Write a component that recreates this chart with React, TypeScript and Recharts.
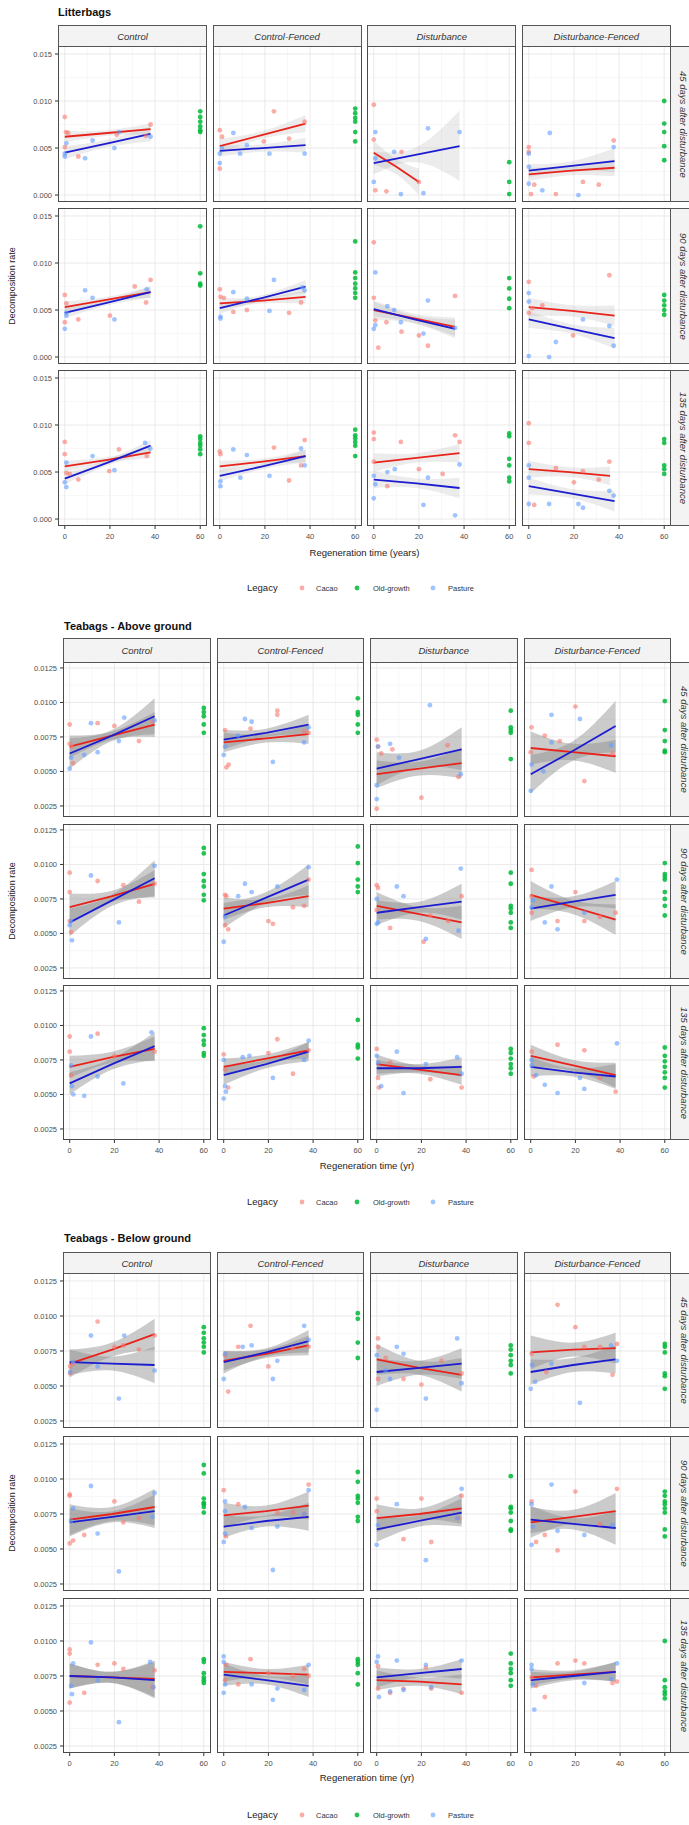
import React from "react";
import { Area, CartesianGrid, ComposedChart, Line, Scatter, XAxis, YAxis } from "recharts";

type Pt = [number, number];
type FitRow = [number, number, number, number]; // x, fitted y, lower, upper

const treatments = ["Control", "Control-Fenced", "Disturbance", "Disturbance-Fenced"];
const times = ["45 days after disturbance", "90 days after disturbance", "135 days after disturbance"];
const legacies = ["Cacao", "Old-growth", "Pasture"];
const xTicks = [0, 20, 40, 60];
const xMinor = [10, 30, 50];
const oldGrowthAge = 60;
const litterYTicks = [0, 0.005, 0.01, 0.015];
const litterYMinor = [0.0025, 0.0075, 0.0125];
const teaYTicks = [0.0025, 0.005, 0.0075, 0.01, 0.0125];
const teaYMinor = [0.00375, 0.00625, 0.00875, 0.01125];

// ---------- Litterbags ----------
const litterCacao: Pt[][][] = [
  [
    [[0, .0083], [0.5, .0067], [1.5, .0066], [0, .0051], [6, .0041], [23, .0064], [38, .0075], [36, .0063]],
    [[0, .0069], [1, .0062], [0, .0028], [24, .0089], [30.7, .006], [37.6, .0078], [19.5, .0057]],
    [[0, .0096], [0, .0059], [0.7, .0005], [5.6, .0004], [12.3, .0046], [20, .0014]],
    [[0, .0051], [0, .0046], [1, .0001], [12, .0001], [24, .0014], [31, .0011], [37.6, .0058], [2.4, .0011]],
  ],
  [
    [[0, .0066], [0.7, .0057], [0, .0037], [6, .004], [20, .0044], [31, .0075], [36, .0058], [38, .0082]],
    [[0, .0072], [0.3, .0064], [1.8, .0063], [6, .0048], [12, .005], [30.7, .0047], [36, .0058]],
    [[0, .0122], [0, .0063], [0.7, .0039], [5.6, .0037], [12.3, .0027], [24, .0012], [36, .0065], [2, .001], [20, .0023]],
    [[0, .008], [0, .0047], [6, .0055], [19.6, .0023], [35.7, .0087], [1.5, .0052]],
  ],
  [
    [[0, .0082], [0, .0069], [0.7, .0049], [2.2, .0048], [6, .0042], [19.7, .0051], [24, .0074], [36.3, .0067]],
    [[0, .0072], [0.3, .0069], [24, .0076], [30.7, .0041], [37.6, .0084], [36, .0057]],
    [[0, .0092], [0, .0085], [12, .0082], [0, .0061], [20, .0053], [30.5, .0048], [36, .0089], [38, .0082], [6, .0035]],
    [[0, .0102], [0, .0081], [12, .0054], [24, .0051], [20, .0039], [31, .0042], [35.7, .0061], [2.4, .0015]],
  ],
];

const litterPasture: Pt[][][] = [
  [
    [[0, .0041], [0, .0044], [0.7, .0055], [9, .0039], [12.3, .0058], [22, .005], [24, .0067], [38, .0062]],
    [[6, .0066], [9, .0044], [12, .0053], [22, .0044], [37.6, .0044], [0, .0044], [0, .0034], [1, .005]],
    [[0.7, .0067], [0.7, .0039], [0, .0014], [9, .0046], [12, .0001], [24, .0071], [22, .0002], [38, .0067]],
    [[0, .0044], [0, .003], [0, .0012], [6, .0005], [9.3, .0066], [22, .0000], [37.6, .0051]],
  ],
  [
    [[0, .003], [0.7, .0044], [9, .0071], [12.3, .0063], [22, .004], [36.3, .0072], [0.7, .0047]],
    [[0.3, .0043], [0.3, .0041], [6, .0069], [12, .0062], [22, .0049], [24, .0082], [36.6, .0074], [37.6, .0071]],
    [[0.7, .009], [0, .003], [0.7, .0034], [6, .0054], [9, .005], [12, .0037], [22, .0025], [24, .006], [36, .0031]],
    [[0, .0068], [0, .0059], [0, .0001], [9, .0000], [12, .0016], [24, .004], [35.7, .0033], [37.6, .0012]],
  ],
  [
    [[0, .0039], [0.7, .0034], [0.7, .006], [12.3, .0067], [22, .0052], [35.6, .0081], [37.9, .0075]],
    [[0.3, .004], [0.3, .0035], [6, .0074], [9.1, .0044], [12, .0068], [22, .0046], [36, .0075], [37.6, .0057]],
    [[0, .0046], [0, .0022], [0.7, .0037], [6, .005], [9.3, .0053], [22, .0015], [24, .0044], [36, .0004], [38, .0058]],
    [[0, .0057], [0, .0044], [0, .0016], [9, .0016], [22, .0016], [24, .0012], [35.7, .003], [37.6, .0025]],
  ],
];

const litterOld: number[][][] = [
  [[.0089, .0083, .0078, .0073, .0069, .0067], [.0092, .0087, .0082, .0078, .0067, .0057], [.0035, .0014, .0001], [.01, .0076, .0067, .0052, .0037]],
  [[.0139, .0089, .0078, .0076], [.0123, .009, .0084, .0078, .0073, .0068, .0063], [.0084, .0073, .0062, .0052], [.0066, .006, .0055, .005, .0045]],
  [[.0088, .0085, .0081, .0078, .0074, .0069], [.0095, .0089, .0086, .0082, .0078, .0067], [.0091, .0088, .0064, .0057, .0044, .004], [.0085, .0081, .0057, .0053, .0048]],
];

const litterCacaoFit: FitRow[][][] = [
  [
    [[0, .0062, .0056, .0068], [19, .0066, .0063, .0069], [38, .007, .0064, .0076]],
    [[0, .0052, .0044, .006], [19, .0064, .006, .0068], [38, .0076, .0067, .0085]],
    [[0, .0045, .0032, .0058], [10, .003, .0022, .0038], [20, .0014, .0000, .0028]],
    [[0, .0022, .0015, .0029], [19, .0026, .0021, .0031], [38, .0029, .002, .0038]],
  ],
  [
    [[0, .0053, .0047, .0059], [19, .0061, .0058, .0064], [38, .0069, .0063, .0075]],
    [[0, .0057, .0051, .0063], [19, .006, .0057, .0063], [38, .0064, .0057, .0071]],
    [[0, .005, .004, .006], [18, .0041, .0036, .0046], [36, .0032, .0022, .0042]],
    [[0, .0053, .0043, .0063], [19, .0049, .0043, .0055], [38, .0044, .0033, .0055]],
  ],
  [
    [[0, .0056, .005, .0062], [19, .0063, .006, .0066], [38, .0071, .0065, .0077]],
    [[0, .0056, .005, .0062], [19, .0061, .0058, .0064], [38, .0067, .006, .0074]],
    [[0, .006, .005, .007], [19, .0065, .006, .007], [38, .007, .006, .008]],
    [[0, .0053, .0044, .0062], [18, .005, .0045, .0055], [36, .0046, .0036, .0056]],
  ],
];

const litterPastureFit: FitRow[][][] = [
  [
    [[0, .0045, .0038, .0052], [19, .0055, .0051, .0059], [38, .0065, .0057, .0073]],
    [[0, .0047, .0041, .0053], [19, .005, .0046, .0054], [38, .0053, .0045, .0061]],
    [[0, .0034, .0022, .0046], [19, .0043, .0035, .0051], [38, .0052, .0015, .009]],
    [[0, .0026, .0019, .0033], [19, .0031, .0026, .0036], [38, .0036, .0024, .005]],
  ],
  [
    [[0, .0047, .0041, .0053], [19, .0058, .0055, .0061], [38, .0069, .0063, .0075]],
    [[0, .0052, .0046, .0058], [19, .0063, .006, .0066], [38, .0075, .0068, .0082]],
    [[0, .0051, .0043, .0059], [18, .004, .0036, .0044], [36, .003, .002, .004]],
    [[0, .004, .0031, .0049], [19, .003, .0025, .0035], [38, .002, .0009, .0031]],
  ],
  [
    [[0, .0043, .0037, .0049], [19, .006, .0057, .0063], [38, .0078, .0072, .0084]],
    [[0, .0046, .004, .0052], [19, .0056, .0053, .0059], [38, .0067, .006, .0074]],
    [[0, .0042, .0033, .0051], [19, .0038, .0033, .0043], [38, .0033, .0022, .0044]],
    [[0, .0035, .0026, .0044], [19, .0027, .0022, .0032], [38, .0019, .0008, .003]],
  ],
];

// ---------- Teabags - Above ground ----------
const aboveCacao: Pt[][][] = [
  [
    [[0, .0084], [1, .0068], [1.5, .0056], [12.5, .0085], [20, .0083], [31, .0072], [37, .0086], [0, .007]],
    [[0.6, .008], [1.2, .0053], [2.2, .0055], [12, .0081], [24, .0094], [24, .0091], [36, .0079], [38, .0078]],
    [[0, .0073], [0.6, .0068], [0, .0023], [2, .0063], [20, .0031], [31.7, .0069], [36.6, .0046], [7, .0066]],
    [[0.4, .0082], [0, .0064], [6.3, .0076], [20, .0097], [24, .0043], [36.6, .0063], [13, .0072]],
  ],
  [
    [[0, .0094], [0, .008], [0.6, .0051], [12.5, .0088], [24, .0085], [31, .0073], [38, .0086], [0, .0059]],
    [[0.6, .0078], [1.2, .0077], [0.6, .0056], [2, .0053], [20, .0059], [22, .0057], [31, .0069], [36, .007], [38, .0089]],
    [[0, .0085], [0.6, .0083], [6, .0054], [21, .0044], [24, .0063], [32, .0059], [38, .0077], [0, .0067]],
    [[0.4, .0096], [0.4, .0077], [0.4, .0065], [12, .0059], [20, .008], [24, .0059], [38, .0065], [31, .0062]],
  ],
  [
    [[0, .0092], [0, .0081], [12.5, .0094], [20, .0078], [38, .0081], [0.6, .0064]],
    [[0, .0079], [0.6, .0068], [2, .0055], [24, .009], [20, .008], [31, .0065], [38, .0082]],
    [[0, .0083], [0.6, .0062], [6, .0073], [24, .0061], [38, .0055], [1, .0055]],
    [[0.4, .0081], [12, .0086], [24, .0082], [38, .0052], [1.4, .0063], [31, .0062]],
  ],
];

const abovePasture: Pt[][][] = [
  [
    [[0, .0052], [0.6, .006], [6.5, .0062], [9.5, .0085], [12.5, .0064], [22, .0072], [24.4, .0089], [38, .0087]],
    [[0, .0062], [0.6, .0068], [9.5, .0088], [12.5, .0086], [22, .0057], [36, .0071], [38, .0082], [6.5, .0076]],
    [[0, .003], [0, .004], [0.6, .0068], [6, .007], [23.8, .0098], [37.6, .0048], [10, .006]],
    [[0, .0036], [0.4, .0055], [5.7, .005], [9.3, .0091], [22, .0088], [36, .0069], [9.3, .0071]],
  ],
  [
    [[0.6, .0059], [1, .0045], [9.5, .0092], [22, .0058], [38, .0099], [0, .0056]],
    [[0, .0044], [0.6, .0062], [6.5, .0077], [9.5, .0086], [12.5, .008], [24, .0084], [38, .0098]],
    [[0, .0075], [0.6, .0058], [0, .0057], [9, .0084], [12, .0077], [22, .0046], [37.6, .0097], [36.6, .0052]],
    [[0.4, .0069], [1, .0074], [6.3, .0058], [9.3, .0084], [12, .0053], [24, .0065], [38.6, .0089]],
  ],
  [
    [[0.6, .0071], [1, .0056], [1.6, .005], [6.5, .0049], [9.5, .0092], [12.5, .0063], [24, .0058], [36.6, .0095]],
    [[0, .0075], [0, .0047], [0.6, .0056], [8.5, .0077], [11.5, .0078], [22, .0062], [36, .0075], [38, .0089], [1, .0052]],
    [[0, .0078], [0.6, .0073], [2, .0056], [9, .0081], [12, .0051], [22, .0072], [36, .0077], [38, .0065]],
    [[0.4, .0075], [0.4, .0071], [6.3, .0057], [12, .0051], [24, .0054], [22, .0062], [38.6, .0087], [2.4, .0064]],
  ],
];

const aboveOld: number[][][] = [
  [[.0096, .0093, .009, .0084, .0078], [.0103, .0093, .0091, .0084, .0078], [.0094, .0082, .008, .0078, .0059], [.0101, .008, .0072, .0065, .0064]],
  [[.0112, .0108, .0093, .0088, .0084, .0078, .0074], [.0113, .0101, .0089, .0084, .008], [.0094, .0086, .007, .0068, .0065, .0058, .0054], [.0101, .0093, .0091, .0089, .008, .0075, .007, .0063]],
  [[.0098, .0093, .0089, .0086, .008, .0078], [.0104, .0086, .0084, .0076], [.0083, .008, .0076, .0072, .0069, .0065], [.0084, .0078, .0074, .007, .0066, .0062, .0055]],
];

const aboveCacaoFit: FitRow[][][] = [
  [
    [[0, .0068, .006, .0076], [19, .0076, .0073, .0079], [38, .0084, .0075, .0093]],
    [[0, .0071, .0064, .0078], [19, .0074, .0071, .0077], [38, .0077, .007, .0084]],
    [[0, .0048, .0038, .0058], [19, .0052, .0047, .0057], [38, .0056, .0045, .0067]],
    [[0, .0067, .0055, .0079], [19, .0064, .0058, .007], [38, .0061, .0049, .0073]],
  ],
  [
    [[0, .0069, .0059, .0079], [19, .0077, .0073, .0081], [38, .0086, .0076, .0096]],
    [[0, .0068, .006, .0076], [19, .0072, .0069, .0075], [38, .0077, .0069, .0085]],
    [[0, .007, .006, .008], [19, .0064, .0059, .0069], [38, .0058, .0046, .007]],
    [[0, .0078, .0068, .0088], [19, .0069, .0064, .0074], [38, .006, .0049, .0071]],
  ],
  [
    [[0, .007, .0062, .0078], [19, .0077, .0073, .0081], [38, .0083, .0074, .0092]],
    [[0, .007, .0064, .0076], [19, .0076, .0073, .0079], [38, .0082, .0076, .0088]],
    [[0, .0072, .0065, .0079], [19, .0068, .0065, .0071], [38, .0064, .0057, .0071]],
    [[0, .0078, .007, .0086], [19, .0071, .0067, .0075], [38, .0064, .0055, .0073]],
  ],
];

const abovePastureFit: FitRow[][][] = [
  [
    [[0, .0063, .0052, .0074], [19, .0076, .0072, .008], [38, .009, .0077, .0103]],
    [[0, .0073, .0066, .008], [19, .0078, .0075, .0081], [38, .0084, .0077, .0091]],
    [[0, .0052, .004, .0064], [19, .0059, .0053, .0065], [38, .0066, .0051, .0082]],
    [[0, .0048, .0034, .0062], [19, .0065, .0058, .0072], [38, .0083, .0064, .0101]],
  ],
  [
    [[0, .0058, .0048, .0068], [19, .0074, .007, .0078], [38, .009, .0077, .0103]],
    [[0, .0063, .0054, .0072], [19, .0076, .0072, .008], [38, .0089, .0078, .01]],
    [[0, .0065, .0056, .0074], [19, .0069, .0065, .0073], [38, .0073, .006, .0086]],
    [[0, .0068, .0059, .0077], [19, .0073, .0069, .0077], [38, .0078, .0068, .0088]],
  ],
  [
    [[0, .0058, .005, .0066], [19, .0072, .0068, .0076], [38, .0085, .0075, .0095]],
    [[0, .0064, .0057, .0071], [19, .0072, .0069, .0075], [38, .0081, .0074, .0088]],
    [[0, .0069, .0063, .0075], [19, .0069, .0066, .0072], [38, .007, .0063, .0077]],
    [[0, .007, .0063, .0077], [19, .0066, .0063, .0069], [38, .0063, .0054, .0072]],
  ],
];

// ---------- Teabags - Below ground ----------
const belowCacao: Pt[][][] = [
  [
    [[0.2, .0064], [0.2, .0059], [12.5, .0096], [20, .0078], [24, .0079], [31, .0076], [38, .0086], [1.5, .0066]],
    [[0.6, .0072], [2, .0046], [6.5, .0078], [12, .0093], [20, .0064], [31, .0077], [38, .0078]],
    [[0.6, .0084], [0.6, .0078], [0.6, .0055], [4, .007], [12, .0055], [20, .0051], [38, .0059], [29, .0068]],
    [[0.4, .0073], [12, .0108], [20, .0092], [24, .0078], [31, .0078], [36.6, .0058], [38.6, .008], [7, .006]],
  ],
  [
    [[0, .0089], [0, .0088], [20, .0084], [6.5, .006], [0, .0054], [1.5, .0056], [24, .0069], [31, .0072]],
    [[0, .0092], [6.5, .0082], [38, .0096], [24, .0076], [31, .0076], [36, .0075], [1, .0059]],
    [[0, .0086], [20, .0086], [38, .0088], [0, .0077], [12, .0057], [24.4, .0055], [36.6, .0072]],
    [[0.4, .0084], [20, .0091], [38.6, .0093], [2.4, .0055], [6.3, .006], [12, .0049], [31, .0068]],
  ],
  [
    [[0, .0094], [0, .0091], [0, .0056], [6.5, .0063], [12.5, .0083], [20, .0084], [24, .008], [38, .0079], [37, .0067]],
    [[0.6, .0072], [1.2, .0083], [6.5, .0069], [12, .0087], [20, .0077], [31, .0075], [36, .008], [38, .0075]],
    [[0.6, .0082], [0.6, .0066], [6, .0063], [12, .0066], [22, .0081], [24.4, .0066], [38, .0063]],
    [[0.4, .0074], [2.4, .0068], [6.3, .006], [12, .0084], [20, .0086], [24, .0084], [36.6, .007], [38.6, .0071]],
  ],
];

const belowPasture: Pt[][][] = [
  [
    [[0.2, .006], [1.5, .0067], [9.5, .0086], [12.5, .0064], [22, .0041], [24.4, .0086], [38, .0061]],
    [[0, .0055], [0.6, .0073], [8.5, .0078], [12.5, .0079], [22, .0055], [24, .0068], [36, .0093], [38, .0083]],
    [[0, .0033], [0, .0072], [4, .0061], [6, .0055], [9, .0078], [12, .0073], [22, .0041], [36, .0084], [38, .0052]],
    [[0, .0048], [0.6, .0065], [9.3, .0066], [22, .0038], [36, .0079], [38.6, .0068], [2, .0053]],
  ],
  [
    [[9.5, .0095], [38, .009], [1.5, .0079], [12.5, .0061], [22, .0034], [37, .0073], [0.6, .007]],
    [[0.6, .0084], [9.5, .008], [38, .0092], [0, .0055], [0.6, .0061], [0.6, .0077], [12.5, .0065], [22, .0035], [24, .0066], [36, .0075]],
    [[9, .0082], [38, .0093], [0, .0053], [0.6, .0067], [22, .0042], [36, .0072]],
    [[9.3, .0096], [0.4, .0082], [0.4, .0053], [1, .0066], [12, .0063], [24, .006], [36.6, .0067]],
  ],
  [
    [[1.5, .0084], [0.6, .0068], [1, .0062], [9.5, .0099], [12.5, .0072], [22, .0042], [36, .0085], [37.5, .0067]],
    [[0, .0089], [0, .0085], [0, .0063], [0.6, .0069], [12.5, .0069], [22, .0058], [24, .0066], [36, .0065], [38, .0083]],
    [[0, .0085], [0.6, .0089], [1, .006], [6, .0064], [9, .0086], [12, .0065], [22, .0083], [38, .0086], [24.4, .0067]],
    [[0.4, .0083], [0.4, .008], [1, .0069], [1.6, .0051], [24, .007], [36, .0073], [38.6, .0084]],
  ],
];

const belowOld: number[][][] = [
  [[.0092, .0088, .0084, .0081, .0078, .0074], [.0102, .0098, .0081, .007], [.0079, .0076, .0072, .0068, .0065, .0059], [.008, .0078, .0074, .0059, .0057, .0048]],
  [[.011, .0104, .0086, .0083, .0082, .008, .0076], [.0105, .0098, .0088, .0086, .0083, .0073, .007], [.0102, .008, .0079, .0076, .007, .0064, .0063], [.0091, .0088, .0084, .0082, .0079, .0076, .0064, .0059]],
  [[.0087, .0085, .0077, .0074, .0072, .007], [.0087, .0085, .0083, .0077, .0069], [.0091, .0084, .008, .0077, .0072, .0068], [.01, .0072, .0067, .0064, .0062, .0059]],
];

const belowCacaoFit: FitRow[][][] = [
  [
    [[0, .0066, .0056, .0076], [19, .0076, .0071, .0081], [38, .0087, .0076, .0098]],
    [[0, .0068, .0061, .0075], [19, .0073, .007, .0076], [38, .0079, .0072, .0086]],
    [[0, .0069, .0058, .008], [19, .0063, .0058, .0068], [38, .0058, .0046, .007]],
    [[0, .0074, .0062, .0086], [19, .0076, .0071, .0081], [38, .0077, .0066, .0088]],
  ],
  [
    [[0, .0071, .006, .0082], [19, .0075, .007, .008], [38, .008, .0067, .0093]],
    [[0, .0074, .0065, .0083], [19, .0077, .0073, .0081], [38, .0081, .0071, .0091]],
    [[0, .0072, .0062, .0082], [19, .0075, .0071, .0079], [38, .0079, .0068, .009]],
    [[0, .0069, .0058, .008], [19, .0073, .0068, .0078], [38, .0077, .0064, .009]],
  ],
  [
    [[0, .0075, .0066, .0084], [19, .0074, .007, .0078], [38, .0073, .006, .0086]],
    [[0, .0078, .0071, .0085], [19, .0077, .0074, .008], [38, .0076, .0069, .0083]],
    [[0, .0072, .0065, .0079], [19, .0071, .0068, .0074], [38, .0069, .0062, .0076]],
    [[0, .0074, .0068, .008], [19, .0076, .0073, .0079], [38, .0078, .0071, .0085]],
  ],
];

const belowPastureFit: FitRow[][][] = [
  [
    [[0, .0067, .0058, .0076], [19, .0066, .0061, .0071], [38, .0065, .0052, .0078]],
    [[0, .0067, .0059, .0075], [19, .0074, .0071, .0077], [38, .0082, .0074, .009]],
    [[0, .006, .005, .007], [19, .0063, .0058, .0068], [38, .0066, .0055, .0077]],
    [[0, .006, .0051, .0069], [19, .0065, .006, .007], [38, .0069, .0059, .0079]],
  ],
  [
    [[0, .0069, .0059, .0079], [19, .0073, .0069, .0077], [38, .0077, .0065, .0089]],
    [[0, .0066, .0058, .0074], [19, .007, .0066, .0074], [38, .0073, .0063, .0083]],
    [[0, .0064, .0055, .0073], [19, .007, .0066, .0074], [38, .0076, .0066, .0086]],
    [[0, .0071, .0061, .0081], [19, .0068, .0064, .0072], [38, .0065, .0053, .0077]],
  ],
  [
    [[0, .0075, .0066, .0084], [19, .0074, .007, .0078], [38, .0072, .0059, .0085]],
    [[0, .0076, .0068, .0084], [19, .0072, .0069, .0075], [38, .0068, .006, .0076]],
    [[0, .0074, .0067, .0081], [19, .0077, .0074, .008], [38, .008, .0073, .0087]],
    [[0, .0072, .0066, .0078], [19, .0075, .0072, .0078], [38, .0078, .0071, .0085]],
  ],
];

// ---------- styling / layout ----------
const FONT = "'Liberation Sans', Arial, sans-serif";
const COLORS = { cacao: "#F8766D", old: "#00BA38", pasture: "#619CFF" };
const FIT_RED = "#e8231b";
const FIT_BLUE = "#1c1cd0";
const YW = 40;
const XH = 20;
const X_DOMAIN: [number, number] = [-3, 63];

type Section = {
  title: string;
  xTitle: string;
  cacao: Pt[][][];
  pasture: Pt[][][];
  old: number[][][];
  cacaoFit: FitRow[][][];
  pastureFit: FitRow[][][];
  yTicks: number[];
  yMinor: number[];
  digits: number;
  yDomain: [number, number];
  bandFill: string;
  bandOpacity: number;
  titleX: number;
  titleY: number;
  stripTop: number;
  stripH: number;
  rowTops: number[];
  panelH: number;
  lefts: number[];
  panelW: number;
  xTitleY: number;
  legendY: number;
};

const sections: Section[] = [
  {
    title: "Litterbags", xTitle: "Regeneration time (years)",
    cacao: litterCacao, pasture: litterPasture, old: litterOld, cacaoFit: litterCacaoFit, pastureFit: litterPastureFit,
    yTicks: litterYTicks, yMinor: litterYMinor, digits: 3, yDomain: [-0.00074, 0.01585],
    bandFill: "#a0a0a0", bandOpacity: 0.2,
    titleX: 58, titleY: 12, stripTop: 25, stripH: 21, rowTops: [46, 208, 370], panelH: 156,
    lefts: [58, 212.6, 367.3, 521.9], panelW: 149, xTitleY: 553, legendY: 588,
  },
  {
    title: "Teabags - Above ground", xTitle: "Regeneration time (yr)",
    cacao: aboveCacao, pasture: abovePasture, old: aboveOld, cacaoFit: aboveCacaoFit, pastureFit: abovePastureFit,
    yTicks: teaYTicks, yMinor: teaYMinor, digits: 4, yDomain: [0.0017, 0.01293],
    bandFill: "#8c8c8c", bandOpacity: 0.45,
    titleX: 64, titleY: 626, stripTop: 638, stripH: 24, rowTops: [662, 823.5, 985], panelH: 155,
    lefts: [63, 216.5, 370, 523.5], panelW: 147.5, xTitleY: 1166, legendY: 1202,
  },
  {
    title: "Teabags - Below ground", xTitle: "Regeneration time (yr)",
    cacao: belowCacao, pasture: belowPasture, old: belowOld, cacaoFit: belowCacaoFit, pastureFit: belowPastureFit,
    yTicks: teaYTicks, yMinor: teaYMinor, digits: 4, yDomain: [0.002, 0.01307],
    bandFill: "#8c8c8c", bandOpacity: 0.45,
    titleX: 64, titleY: 1238, stripTop: 1252, stripH: 21, rowTops: [1273, 1435.5, 1598], panelH: 155,
    lefts: [63, 216.5, 370, 523.5], panelW: 147.5, xTitleY: 1778, legendY: 1815,
  },
];

const dot = (color: string, opacity: number) => (props: any) =>
  <circle cx={props.cx} cy={props.cy} r={2.4} fill={color} fillOpacity={opacity} />;

const toPts = (pts: Pt[]) => pts.map(([x, y]) => ({ x, y }));
const toFit = (rows: FitRow[]) => rows.map(([x, y, lo, hi]) => ({ x, y, band: [lo, hi] }));

function Panel({ s, r, c }: { s: Section; r: number; c: number }) {
  const showY = c === 0;
  const showX = r === 2;
  const w = s.panelW + (showY ? YW : 0);
  const h = s.panelH + (showX ? XH : 0);
  const oldPts = s.old[r][c].map((y) => ({ x: oldGrowthAge, y }));
  const tickStyle = { fontSize: 7.5, fill: "#4d4d4d", fontFamily: FONT };
  return (
    <div style={{ position: "absolute", left: s.lefts[c] - (showY ? YW : 0), top: s.rowTops[r], width: w, height: h }}>
      <ComposedChart width={w} height={h} margin={{ top: 0, right: 0, bottom: 0, left: 0 }}>
        <CartesianGrid horizontalValues={s.yMinor} verticalValues={xMinor} stroke="#f1f1f1" strokeWidth={0.5} />
        <CartesianGrid horizontalValues={s.yTicks} verticalValues={xTicks} stroke="#e4e4e4" strokeWidth={0.8} />
        <XAxis
          type="number" dataKey="x" domain={X_DOMAIN} ticks={xTicks} interval={0} allowDataOverflow
          hide={!showX} height={XH} tick={tickStyle} tickSize={3} tickMargin={5}
          axisLine={false} tickLine={{ stroke: "#333" }}
        />
        <YAxis
          type="number" dataKey="y" domain={s.yDomain} ticks={s.yTicks} interval={0} allowDataOverflow
          hide={!showY} width={YW} tick={tickStyle} tickSize={3} tickMargin={3}
          axisLine={false} tickLine={{ stroke: "#333" }}
          tickFormatter={(v: number) => v.toFixed(s.digits)}
        />
        <Scatter data={toPts(s.cacao[r][c])} shape={dot(COLORS.cacao, 0.6)} isAnimationActive={false} />
        <Scatter data={oldPts} shape={dot(COLORS.old, 0.85)} isAnimationActive={false} />
        <Scatter data={toPts(s.pasture[r][c])} shape={dot(COLORS.pasture, 0.6)} isAnimationActive={false} />
        <Area data={toFit(s.cacaoFit[r][c])} dataKey="band" type="natural" stroke="none"
          fill={s.bandFill} fillOpacity={s.bandOpacity} isAnimationActive={false} />
        <Area data={toFit(s.pastureFit[r][c])} dataKey="band" type="natural" stroke="none"
          fill={s.bandFill} fillOpacity={s.bandOpacity} isAnimationActive={false} />
        <Line data={toFit(s.cacaoFit[r][c])} dataKey="y" type="linear" stroke={FIT_RED}
          strokeWidth={1.8} dot={false} isAnimationActive={false} />
        <Line data={toFit(s.pastureFit[r][c])} dataKey="y" type="linear" stroke={FIT_BLUE}
          strokeWidth={1.8} dot={false} isAnimationActive={false} />
      </ComposedChart>
    </div>
  );
}

const stripBox: React.CSSProperties = {
  position: "absolute", boxSizing: "border-box", border: "1px solid #555", background: "#f3f3f3",
  display: "flex", alignItems: "center", justifyContent: "center",
  fontFamily: FONT, fontStyle: "italic", fontSize: 9.5, color: "#333", overflow: "hidden",
};

function SectionBlock({ s }: { s: Section }) {
  const right = s.lefts[3] + s.panelW;
  const plotBottom = s.rowTops[2] + s.panelH;
  const yMid = (s.rowTops[0] + plotBottom) / 2;
  const xMid = (s.lefts[0] + right) / 2;
  const legendItems = [
    { label: legacies[0], color: COLORS.cacao, op: 0.6, dx: 302, tx: 316 },
    { label: legacies[1], color: COLORS.old, op: 0.85, dx: 357, tx: 373 },
    { label: legacies[2], color: COLORS.pasture, op: 0.6, dx: 433, tx: 448 },
  ];
  return (
    <>
      {s.rowTops.map((_, r) => treatments.map((_, c) => <Panel key={`${r}-${c}`} s={s} r={r} c={c} />))}
      {s.rowTops.map((top, r) => treatments.map((_, c) => (
        <div key={`b${r}-${c}`} style={{
          position: "absolute", left: s.lefts[c], top, width: s.panelW, height: s.panelH,
          boxSizing: "border-box", border: "1px solid #4a4a4a", pointerEvents: "none",
        }} />
      )))}
      {treatments.map((t, c) => (
        <div key={t} style={{ ...stripBox, left: s.lefts[c], top: s.stripTop, width: s.panelW, height: s.stripH + 1 }}>{t}</div>
      ))}
      {times.map((t, r) => (
        <div key={t} style={{ ...stripBox, left: right - 1, top: s.rowTops[r], width: 24, height: s.panelH, writingMode: "vertical-rl", justifyContent: "center" }}>
          <span style={{ marginLeft: 4 }}>{t}</span>
        </div>
      ))}
      <svg width={689} height={1825} style={{ position: "absolute", left: 0, top: 0, pointerEvents: "none" }}>
        <text x={s.titleX} y={s.titleY} dy="0.35em" fontFamily={FONT} fontWeight="bold" fontSize={11} fill="#111">{s.title}</text>
        <text x={12} y={yMid} transform={`rotate(-90 12 ${yMid})`} textAnchor="middle" dy="0.35em"
          fontFamily={FONT} fontSize={9} fill="#222">Decomposition rate</text>
        <text x={xMid} y={s.xTitleY} textAnchor="middle" dy="0.35em" fontFamily={FONT} fontSize={9.5} fill="#222">{s.xTitle}</text>
        <text x={247} y={s.legendY} dy="0.35em" fontFamily={FONT} fontSize={9.5} fill="#222">Legacy</text>
        {legendItems.map((it) => (
          <g key={it.label}>
            <circle cx={it.dx} cy={s.legendY} r={2.4} fill={it.color} fillOpacity={it.op} />
            <text x={it.tx} y={s.legendY} dy="0.35em" fontFamily={FONT} fontSize={7.5} fill="#333">{it.label}</text>
          </g>
        ))}
      </svg>
    </>
  );
}

export default function App() {
  return (
    <div style={{ position: "absolute", left: 0, top: 0, width: 689, height: 1825, background: "#fff", overflow: "hidden" }}>
      {sections.map((s) => <SectionBlock key={s.title} s={s} />)}
    </div>
  );
}
